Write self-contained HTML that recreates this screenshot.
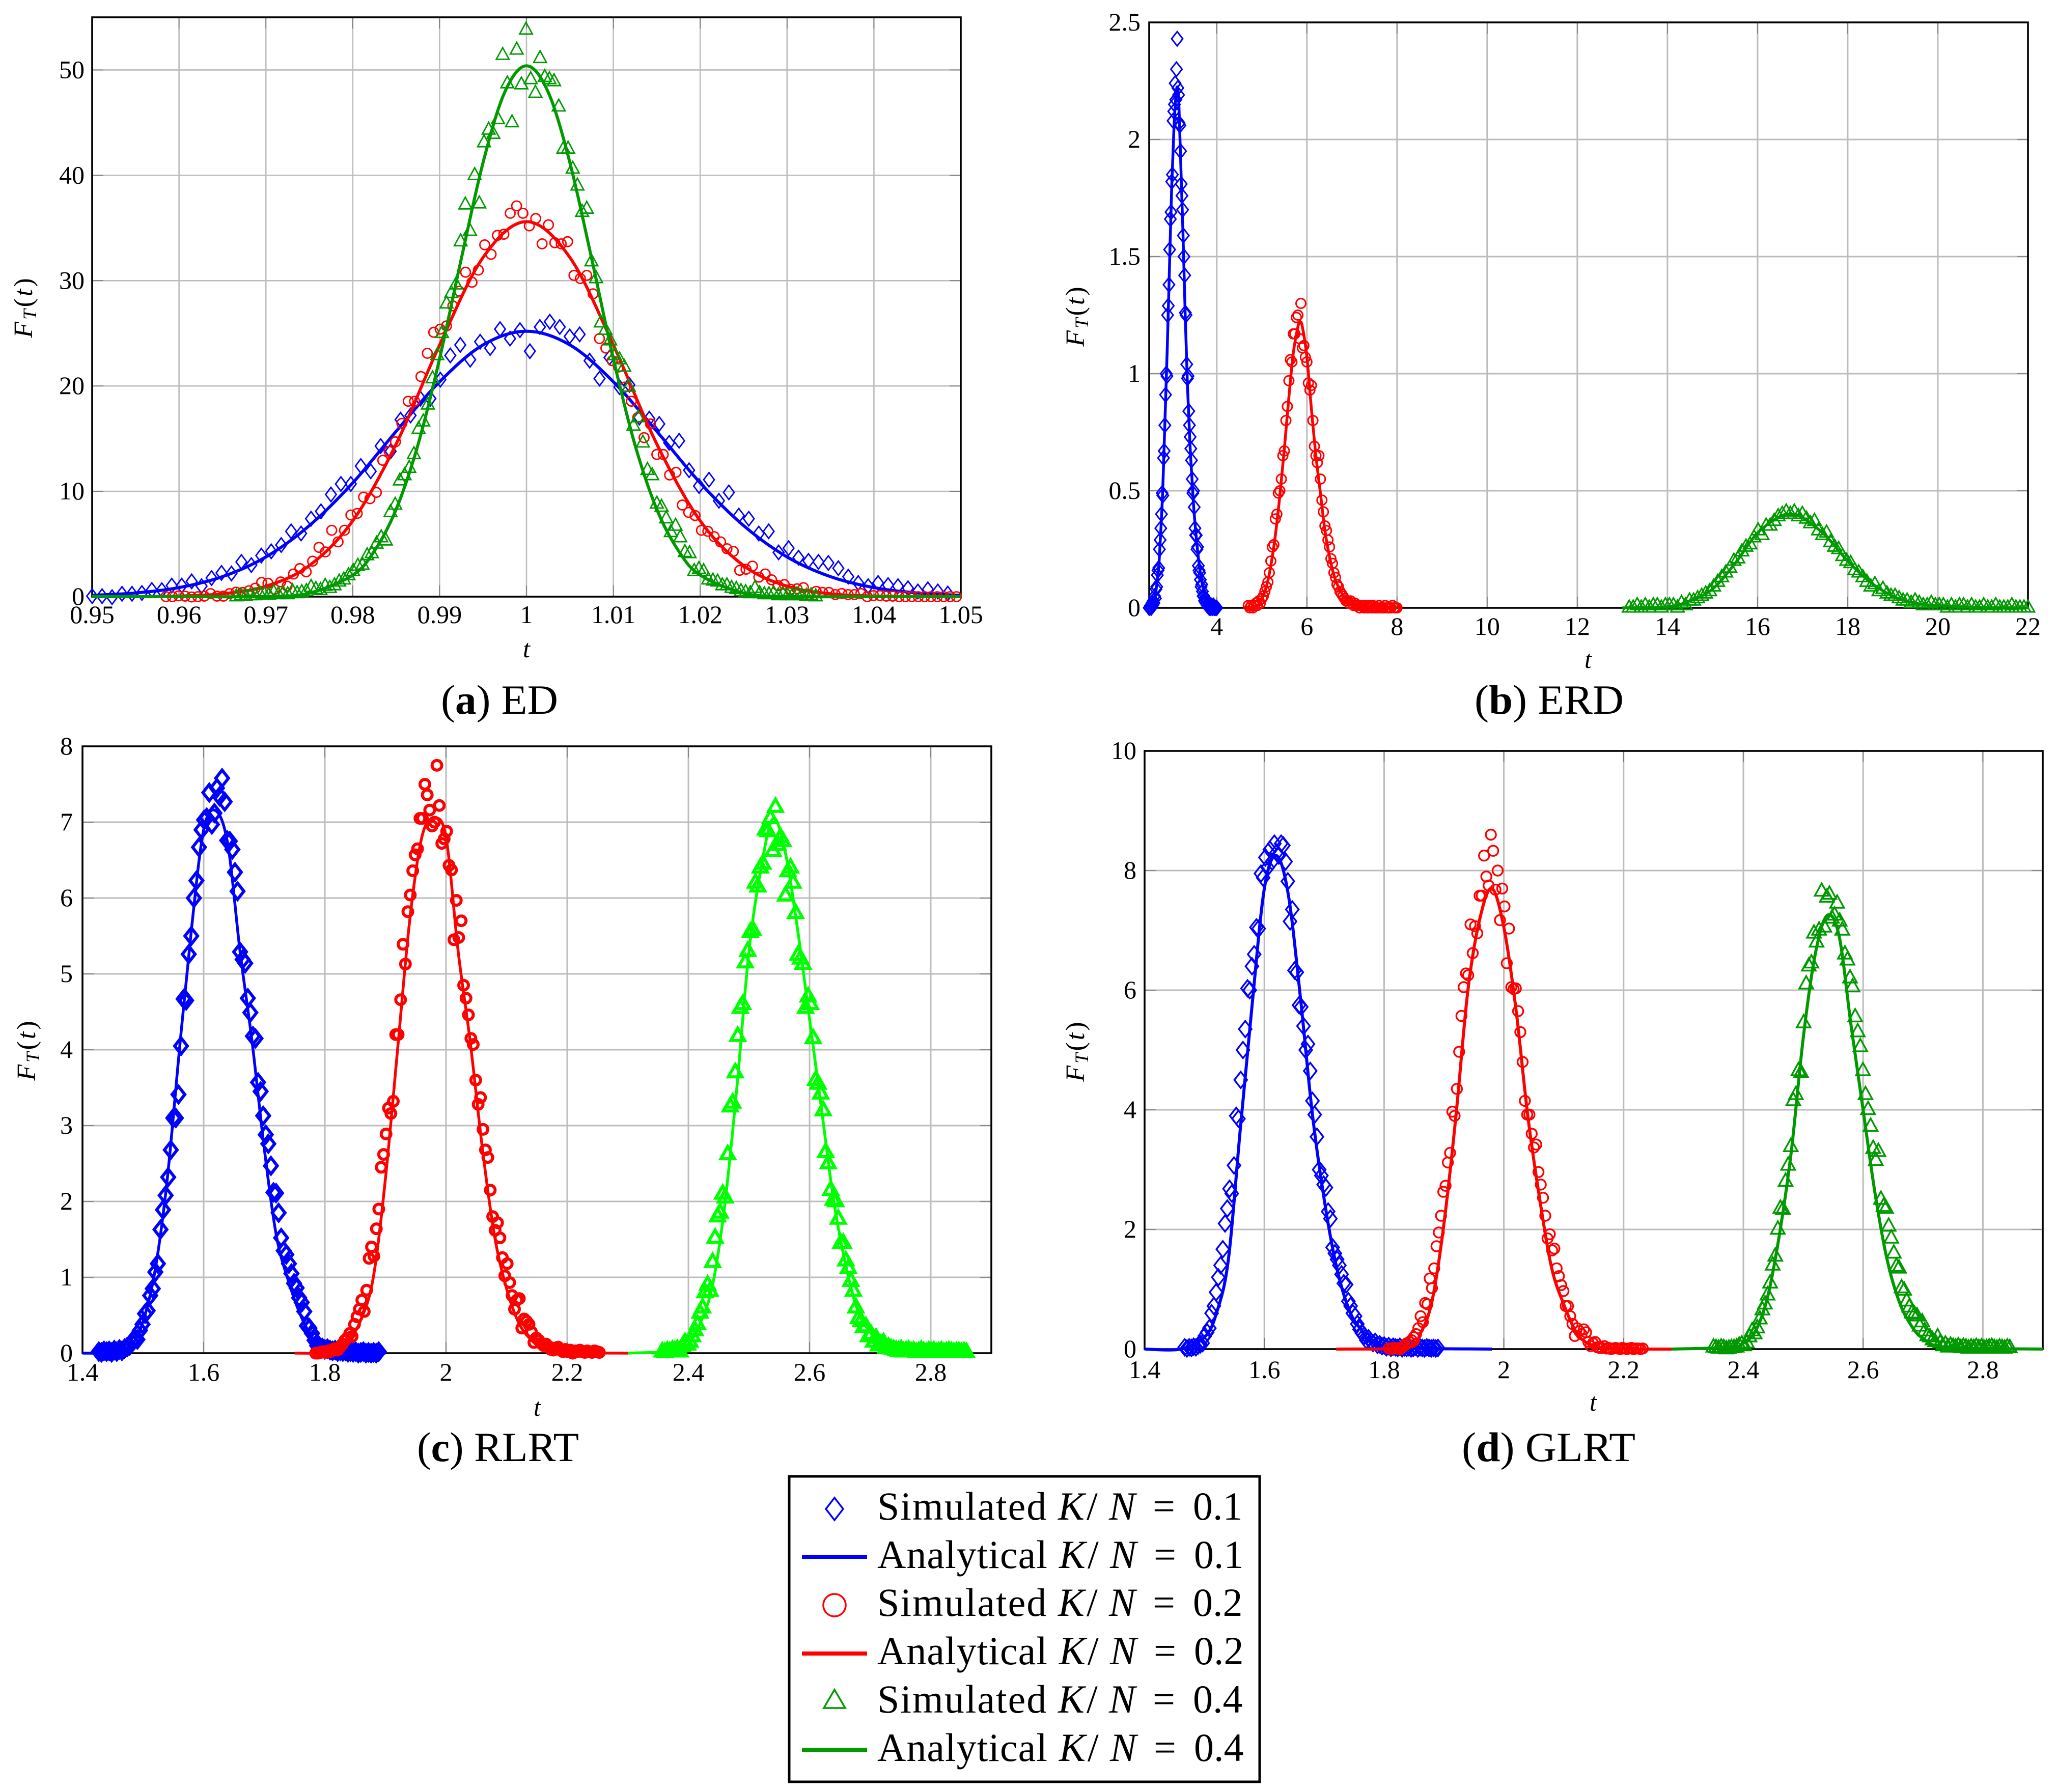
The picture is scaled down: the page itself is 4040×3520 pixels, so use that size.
<!DOCTYPE html>
<html lang="en">
<head>
<meta charset="utf-8">
<title>Distribution of test statistics</title>
<style>
html,body{margin:0;padding:0;background:#fff;}
svg{display:block;position:absolute;left:0;top:0;}
text{font-family:"Liberation Serif",serif;fill:#000;}
.w1{letter-spacing:2px;}
.w2{letter-spacing:1px;}
.i{font-style:italic;}
</style>
</head>
<body>
<svg id="figure" xmlns="http://www.w3.org/2000/svg" width="4040" height="3520" viewBox="0 0 4040 3520">
  <rect x="0" y="0" width="4040" height="3520" fill="#fff"/>
  <g id="panels"></g>

  <text x="866" y="1402" font-size="82" textLength="230" lengthAdjust="spacingAndGlyphs">(<tspan font-weight="bold">a</tspan>) ED</text>
  <text x="2896" y="1402" font-size="82" textLength="293" lengthAdjust="spacingAndGlyphs">(<tspan font-weight="bold">b</tspan>) ERD</text>
  <text x="819" y="2870" font-size="82" textLength="318" lengthAdjust="spacingAndGlyphs">(<tspan font-weight="bold">c</tspan>) RLRT</text>
  <text x="2871" y="2870" font-size="82" textLength="341" lengthAdjust="spacingAndGlyphs">(<tspan font-weight="bold">d</tspan>) GLRT</text>

  <g>
    <rect x="1550" y="2900" width="924" height="600" fill="#fff" stroke="#000" stroke-width="5"/>
    <path d="M1639 2942L1656 2964L1639 2986L1622 2964Z" fill="none" stroke="#0000ff" stroke-width="3.5"/>
    <text y="2985" font-size="78"><tspan class="w1" x="1723">Simulated</tspan><tspan class="i" x="2078">K</tspan><tspan x="2134">/</tspan><tspan class="i" x="2178">N</tspan><tspan x="2264">=</tspan><tspan x="2343">0.1</tspan></text>
    <rect x="1575" y="3054" width="128" height="8" fill="#0000ff"/>
    <text y="3080" font-size="78"><tspan class="w2" x="1723">Analytical</tspan><tspan class="i" x="2080">K</tspan><tspan x="2136">/</tspan><tspan class="i" x="2180">N</tspan><tspan x="2266">=</tspan><tspan x="2345">0.1</tspan></text>
    <circle cx="1639" cy="3153" r="22" fill="none" stroke="#ff0000" stroke-width="3.5"/>
    <text y="3174" font-size="78"><tspan class="w1" x="1723">Simulated</tspan><tspan class="i" x="2078">K</tspan><tspan x="2134">/</tspan><tspan class="i" x="2178">N</tspan><tspan x="2264">=</tspan><tspan x="2343">0.2</tspan></text>
    <rect x="1575" y="3244" width="128" height="8" fill="#ff0000"/>
    <text y="3269" font-size="78"><tspan class="w2" x="1723">Analytical</tspan><tspan class="i" x="2080">K</tspan><tspan x="2136">/</tspan><tspan class="i" x="2180">N</tspan><tspan x="2266">=</tspan><tspan x="2345">0.2</tspan></text>
    <path d="M1639 3319L1660 3355L1618 3355Z" fill="none" stroke="#009900" stroke-width="3.5"/>
    <text y="3364" font-size="78"><tspan class="w1" x="1723">Simulated</tspan><tspan class="i" x="2078">K</tspan><tspan x="2134">/</tspan><tspan class="i" x="2178">N</tspan><tspan x="2264">=</tspan><tspan x="2343">0.4</tspan></text>
    <rect x="1575" y="3433" width="128" height="8" fill="#009900"/>
    <text y="3459" font-size="78"><tspan class="w2" x="1723">Analytical</tspan><tspan class="i" x="2080">K</tspan><tspan x="2136">/</tspan><tspan class="i" x="2180">N</tspan><tspan x="2266">=</tspan><tspan x="2345">0.4</tspan></text>
  </g>
</svg>

<script>
/* ---------- Panel (a) ED ---------- */
const edXTicks=[0.95,0.96,0.97,0.98,0.99,1,1.01,1.02,1.03,1.04,1.05];
const edXLabels=["0.95","0.96","0.97","0.98","0.99","1","1.01","1.02","1.03","1.04","1.05"];
const edYTicks=[0,10,20,30,40,50];
const edYLabels=["0","10","20","30","40","50"];
const edBlueSimRange=[0.95,1.0485];
const edBlueSimY=[0.05,0.05,-0.05,0.27,0.27,0.35,0.64,0.62,1.05,1.05,1.45,1.0,1.77,2.25,2.2,3.3,3.0,3.9,4.3,4.9,6.2,6.0,7.4,8.1,9.7,10.7,10.7,12.4,11.9,14.3,13.8,16.8,17.2,18.8,18.8,20.6,22.9,23.9,22.5,24.2,23.6,25.4,24.5,25.3,23.3,25.6,26.1,25.6,24.7,24.9,22.4,20.7,22.7,19.9,20.1,17.0,16.9,16.4,14.6,14.8,12.0,10.5,11.1,9.1,9.9,7.7,7.4,6.0,6.2,4.2,4.6,3.7,3.4,3.3,3.2,2.7,1.9,1.3,1.0,1.3,1.1,1.0,0.8,0.5,0.7,0.5,0.3];
const edRedSimRange=[0.9585,1.0495];
const edRedSimY=[0,0,0.08,0.05,-0.03,0,0.05,0.29,0.05,0.05,0.29,0.43,0.4,0.56,0.8,1.35,1.27,0.7,1.4,1.0,2.15,2.67,2.36,3.37,4.68,4.25,6.3,5.2,6.3,7.75,7.9,9.45,9.3,9.9,12.95,13.8,14.7,16.45,18.55,18.55,20.9,23.1,25.1,25.4,25.7,27.6,29,30.8,29.85,31,33.4,32.5,34.3,34.4,36.4,37.1,36.4,35.2,35.9,33.5,35.3,33.6,33.5,33.7,30.5,30.2,30.5,28.75,24.5,23.6,22.4,21.8,19.9,18.55,17,15.1,16.4,13.5,13.5,11.55,11.8,8.7,8,7.7,6.3,6.2,5.7,5.2,4.55,4.3,2.5,2.6,2.9,1.85,2.15,1.6,1.05,1.15,0.7,0.75,0.85,0.2,0.5,0.4,0.4,0.2,0.3,0.2,0.2,0.3,0,0.1,0.1,0.05,0.05,0,0,0,0,0,0,0,0,0,0];
const edGreenSimRange=[0.9666,1.0333];
const edGreenSimY=[0,0.1,0.05,0.1,0.1,0.3,0.2,0.15,0.4,0.2,0.3,0.2,0.5,0.3,0.4,0.5,0.9,0.7,0.6,1,0.8,1.05,1.4,1.6,2,2.4,2.9,3,3.9,4.1,5,5.6,5.3,8,8.7,11,11.5,12.2,13.5,15.9,16.6,18.2,20.7,22.9,25,27.8,28.8,29.6,33.7,37.2,34.7,40,37.3,43.1,44.3,43.9,45.3,51.4,48.7,45,51.9,48.6,53.8,49.1,47.8,51.1,49.3,49.1,48.9,46.5,42.5,42.5,40.6,39,36.5,36.8,31.8,30.2,26,25.3,24.3,22.9,22.5,21.8,19.9,16.2,17,14.6,12,11.5,8.8,8.5,7.4,6.1,6.7,5.6,4.2,4.1,2.4,2.6,2.4,1.6,1.5,1.4,1.05,1.05,0.8,0.7,0.5,0.4,0.3,0.8,0.3,0.2,0.2,0.3,0.1,0.2,0.1,0.1,0.2,0.1,0.05,0.1,0];
const edBlueCurveT=[0.95,0.955,0.96,0.965,0.97,0.975,0.98,0.985,0.99,0.995,1,1.005,1.01,1.015,1.02,1.025,1.03,1.035,1.04,1.045,1.05];
const edBlueCurveY=[0.13,0.35,0.86,1.9,3.77,6.74,10.8,15.7,20.4,23.9,25.2,23.9,20.4,15.7,10.8,6.74,3.77,1.9,0.86,0.35,0.13];
const edRedCurveT=[0.95,0.955,0.96,0.965,0.97,0.975,0.98,0.985,0.99,0.995,1,1.005,1.01,1.015,1.02,1.025,1.03,1.035,1.04,1.045,1.05];
const edRedCurveY=[0,0.01,0.06,0.27,0.99,2.95,7.2,14.5,23.9,32.2,35.6,32.2,23.9,14.5,7.2,2.95,0.99,0.27,0.06,0.01,0];
const edGreenCurveT=[0.95,0.96,0.97,0.975,0.98,0.9825,0.985,0.9875,0.99,0.9925,0.995,0.9975,1,1.0025,1.005,1.0075,1.01,1.0125,1.015,1.0175,1.02,1.025,1.03,1.04,1.05];
const edGreenCurveY=[0,0,0.02,0.34,2.05,4.35,8.3,14.4,22.6,32.1,41.2,47.9,50.4,47.9,41.2,32.1,22.6,14.4,8.3,4.35,2.05,0.34,0.02,0,0];

/* ---------- Panel (b) ERD ---------- */
const erdXTicks=[4,6,8,10,12,14,16,18,20,22];
const erdXLabels=["4","6","8","10","12","14","16","18","20","22"];
const erdYTicks=[0,0.5,1,1.5,2,2.5];
const erdYLabels=["0","0.5","1","1.5","2","2.5"];
const erdBlueSimRange=[2.5,4.0];
const erdBlueSimY=[0,0,0.01,0,0.02,0.01,0.03,0.02,0.05,0.04,0.08,0.09,0.14,0.16,0.17,0.25,0.29,0.34,0.4,0.49,0.48,0.64,0.67,0.78,0.91,1.0,0.99,1.25,1.29,1.38,1.53,1.66,1.69,1.82,1.85,2.08,2.12,2.15,2.24,2.17,2.3,2.43,2.22,2.19,2.07,2.06,1.95,1.81,1.76,1.7,1.59,1.5,1.42,1.26,1.25,1.04,0.98,0.99,0.84,0.78,0.73,0.68,0.63,0.55,0.49,0.5,0.43,0.34,0.31,0.31,0.25,0.26,0.18,0.16,0.15,0.12,0.09,0.1,0.07,0.05,0.05,0.03,0.04,0.02,0.03,0.01,0.02,0.01,0,0.01,0,0.01,0,0,0.01,0,0,0,0,0];
const erdRedSimRange=[4.7,8.0];
const erdRedSimY=[0.01,0,0.01,0,0.01,0.02,0.01,0.03,0.02,0.04,0.05,0.07,0.09,0.11,0.15,0.2,0.26,0.27,0.38,0.4,0.49,0.5,0.55,0.65,0.67,0.8,0.86,0.97,1.06,1.05,1.17,1.17,1.24,1.25,1.15,1.3,1.11,1.12,1.07,1.05,0.96,0.93,0.95,0.8,0.69,0.65,0.62,0.65,0.55,0.46,0.41,0.35,0.33,0.29,0.26,0.21,0.19,0.15,0.13,0.1,0.09,0.07,0.06,0.05,0.04,0.03,0.03,0.02,0.03,0.02,0.01,0.02,0.01,0.01,0,0.01,0.01,0,0.01,0,0,0.01,0,0.01,0,0,0,0.01,0,0,0,0.01,0,0,0,0,0.01,0,0,0];
const erdGreenSimRange=[13.15,22.0];
const erdGreenSimY=[0,0,0.01,0,0.01,0,0.01,0.01,0,0.01,0.01,0.01,0,0.02,0.01,0.03,0.03,0.04,0.05,0.06,0.07,0.09,0.11,0.13,0.15,0.17,0.2,0.21,0.24,0.26,0.27,0.3,0.33,0.31,0.35,0.35,0.37,0.39,0.4,0.41,0.4,0.41,0.39,0.4,0.38,0.36,0.37,0.33,0.31,0.32,0.28,0.26,0.25,0.22,0.2,0.19,0.16,0.15,0.13,0.11,0.09,0.1,0.07,0.08,0.06,0.05,0.05,0.04,0.03,0.03,0.02,0.03,0.02,0.01,0.01,0.02,0.01,0.01,0.01,0,0.01,0,0.01,0.01,0,0.01,0,0,0.01,0,0,0.01,0,0,0,0.01,0,0,0,0];
const erdBlueCurveT=[2.5,2.6,2.7,2.75,2.8,2.85,2.9,2.95,3.0,3.05,3.1,3.13,3.16,3.2,3.25,3.3,3.35,3.4,3.45,3.5,3.6,3.7,3.8,4];
const erdBlueCurveY=[0,0.02,0.15,0.3,0.5,0.8,1.1,1.45,1.8,2.05,2.2,2.22,2.15,1.9,1.6,1.25,0.95,0.72,0.55,0.4,0.2,0.08,0.03,0];
const erdRedCurveT=[4.7,4.9,5.0,5.1,5.2,5.3,5.4,5.5,5.6,5.7,5.8,5.85,5.9,6.0,6.1,6.2,6.3,6.4,6.5,6.6,6.7,6.9,7.2,8];
const erdRedCurveY=[0,0.01,0.04,0.09,0.18,0.31,0.48,0.68,0.9,1.09,1.2,1.22,1.2,1.07,0.85,0.65,0.49,0.33,0.22,0.14,0.09,0.03,0.01,0];
const erdGreenCurveT=[13,14,14.5,15,15.5,16,16.5,16.75,17,17.5,18,18.5,19,19.5,20,21,22];
const erdGreenCurveY=[0,0.005,0.03,0.08,0.19,0.32,0.39,0.4,0.385,0.31,0.2,0.11,0.05,0.02,0.01,0.002,0];

/* ---------- Panel (c) RLRT ---------- */
const rlrtXTicks=[1.4,1.6,1.8,2,2.2,2.4,2.6,2.8];
const rlrtXLabels=["1.4","1.6","1.8","2","2.2","2.4","2.6","2.8"];
const rlrtYTicks=[0,1,2,3,4,5,6,7,8];
const rlrtYLabels=["0","1","2","3","4","5","6","7","8"];
const rlrtBlueSimRange=[1.427,1.889];
const rlrtBlueSimY=[0.02,0.01,0.03,0.02,0.03,0.01,0.04,0.02,0.05,0.03,0.06,0.08,0.1,0.14,0.2,0.18,0.3,0.38,0.52,0.56,0.76,0.85,1.07,1.18,1.63,1.89,2.08,2.32,2.68,3.1,3.1,3.41,4.05,4.67,4.65,5.26,5.5,6,6.23,6.67,6.9,7.03,7.06,7.39,6.97,7.12,7.45,7.34,7.58,7.27,6.76,6.75,6.64,6.34,6.09,5.29,5.19,5.14,4.68,4.49,4.18,4.15,3.57,3.45,3.13,2.88,2.76,2.47,2.12,2.11,1.85,1.52,1.35,1.3,1.18,1.05,0.92,0.86,0.73,0.67,0.55,0.36,0.33,0.26,0.17,0.1,0.08,0.07,0.05,0.06,0.04,0.03,0.04,0.02,0.03,0.02,0.03,0.01,0.02,0.01,0.02,0,0.01,0.02,0,0.01,0,0.01,0,0.02];
const rlrtRedSimRange=[1.785,2.253];
const rlrtRedSimY=[0,0,0.01,0.02,0.01,0.03,0.02,0.05,0.06,0.04,0.08,0.12,0.17,0.2,0.26,0.22,0.38,0.48,0.58,0.7,0.55,0.83,1.25,1.4,1.28,1.64,1.9,2.45,2.62,2.89,3.23,3.16,3.32,4.2,4.2,4.66,5.39,5.13,5.82,6.04,6.36,6.57,6.65,7.05,7.05,7.5,7.36,7.16,6.95,7.0,7.75,7.22,6.72,6.78,6.88,6.43,6.37,5.45,5.97,5.48,5.7,4.85,4.68,4.46,4.15,4.07,3.6,3.28,3.37,2.95,2.68,2.58,2.15,1.8,1.62,1.72,1.52,1.26,1.02,1.18,0.93,0.76,0.58,0.7,0.72,0.33,0.45,0.42,0.38,0.28,0.14,0.2,0.17,0.13,0.1,0.12,0.09,0.05,0.04,0.07,0.08,0.04,0.02,0.05,0.02,0.04,0,0.03,0.02,0.04,0.02,0.01,0.03,0.02,0.01,0.03,0.02,0.01];
const rlrtGreenSimRange=[2.357,2.859];
const rlrtGreenSimY=[0.02,0.01,0.03,0.02,0.04,0.03,0.05,0.02,0.09,0.14,0.11,0.15,0.22,0.3,0.38,0.53,0.6,0.8,0.9,0.82,1.2,1.52,1.8,1.85,2.1,2.05,2.62,3.25,3.3,3.7,4.18,4.55,4.6,5.15,5.3,5.55,5.58,6.2,6.15,6.4,6.45,6.9,6.88,7.05,6.62,7.2,6.7,6.8,6.75,6.03,6.35,6.4,6.2,5.8,5.25,5.2,5.13,4.55,4.7,4.6,4.15,3.6,3.55,3.42,3.2,2.65,2.5,2.15,2.02,2.0,1.77,1.45,1.45,1.22,1.12,0.95,0.82,0.6,0.46,0.42,0.34,0.35,0.22,0.25,0.15,0.2,0.1,0.12,0.14,0.07,0.08,0.06,0.05,0.04,0.03,0.05,0.02,0.03,0.04,0.02,0.03,0.01,0.02,0.04,0.02,0.01,0.03,0.02,0.03,0.01,0.02,0.03,0.01,0.02,0.03,0.02,0.01,0.02,0.02,0.01,0.02,0.01];
const rlrtBlueCurveT=[1.4,1.45,1.48,1.5,1.52,1.54,1.56,1.58,1.6,1.62,1.64,1.66,1.68,1.7,1.72,1.74,1.76,1.78,1.8,1.85,1.9];
const rlrtBlueCurveY=[0,0.01,0.1,0.42,1.1,2.3,4.0,5.6,6.9,7.15,6.7,5.3,4.1,2.7,1.55,0.95,0.5,0.2,0.07,0,0];
const rlrtRedCurveT=[1.75,1.8,1.84,1.86,1.88,1.9,1.92,1.94,1.96,1.98,2.0,2.02,2.04,2.06,2.08,2.1,2.12,2.14,2.16,2.2,2.3];
const rlrtRedCurveY=[0,0.02,0.2,0.45,1.0,2.3,4.0,5.7,6.8,7.05,6.8,5.3,4.1,2.7,1.55,0.85,0.4,0.18,0.07,0.01,0];
const rlrtGreenCurveT=[2.3,2.38,2.4,2.42,2.44,2.46,2.48,2.5,2.52,2.54,2.56,2.58,2.6,2.62,2.64,2.66,2.68,2.7,2.72,2.76,2.86];
const rlrtGreenCurveY=[0,0.03,0.12,0.4,0.9,1.95,3.5,5.3,6.4,7.05,6.6,5.6,4.4,3.2,2.0,1.15,0.55,0.28,0.12,0.02,0];

/* ---------- Panel (d) GLRT ---------- */
const glrtXTicks=[1.4,1.6,1.8,2,2.2,2.4,2.6,2.8];
const glrtXLabels=["1.4","1.6","1.8","2","2.2","2.4","2.6","2.8"];
const glrtYTicks=[0,2,4,6,8,10];
const glrtYLabels=["0","2","4","6","8","10"];
const glrtBlueSimRange=[1.467,1.89];
const glrtBlueSimY=[0.03,0.01,0.03,0.02,0.04,0.03,0.06,0.08,0.1,0.22,0.28,0.35,0.6,0.72,0.95,1.2,1.4,1.67,2.1,2.35,2.68,2.6,3.07,3.9,3.85,4.5,5.0,5.35,6.03,6.0,6.4,6.6,7.05,7.03,7.95,7.88,8.22,8.05,8.35,8.15,8.45,8.3,8.25,8.45,8.42,8.15,7.82,7.15,7.35,6.33,6.3,5.75,5.72,5.4,5.0,5.1,4.65,4.15,3.92,3.55,3.0,2.9,2.75,2.7,2.3,2.18,1.7,1.6,1.5,1.4,1.25,1.1,1.08,0.8,0.72,0.6,0.55,0.42,0.33,0.27,0.22,0.15,0.18,0.13,0.1,0.12,0.07,0.08,0.05,0.06,0.03,0.05,0.02,0.04,0.03,0.02,0.04,0.01,0.03,0.02,0.03,0.01,0.02,0.04,0.01,0.03,0.02,0.01,0.03,0.02,0.01,0.02,0.01,0.02];
const glrtRedSimRange=[1.808,2.232];
const glrtRedSimY=[0.01,0,0.02,0.01,0.02,0,0.03,0.06,0.1,0.12,0.15,0.2,0.25,0.35,0.55,0.45,0.77,0.75,1.18,1.02,1.35,1.72,1.95,2.23,2.63,2.73,3.12,3.28,3.97,3.9,4.35,4.97,5.57,6.05,6.28,6.25,7.1,6.62,7.07,6.95,7.58,7.58,8.25,7.9,7.75,8.6,8.33,7.68,8.0,7.17,7.7,7.4,6.45,7.03,6.05,6.02,6.03,5.65,5.3,4.8,4.15,3.92,3.92,3.6,3.37,3.42,2.96,2.75,2.53,2.23,1.85,1.92,1.65,1.68,1.35,1.22,1.07,0.97,0.72,0.72,0.55,0.42,0.22,0.35,0.3,0.25,0.33,0.28,0.12,0.05,0.1,0.12,0.03,0.02,0.02,0.05,0.01,0.02,0,0.01,0.02,0.01,0,0.02,0.01,0,0.01,0.02,0,0.01,0.01,0,0.01];
const glrtGreenSimRange=[2.35,2.845];
const glrtGreenSimY=[0.03,0.02,0.01,0.03,0.02,0,0.01,0.02,0.02,0.03,0.06,0.08,0.05,0.1,0.2,0.3,0.25,0.35,0.5,0.65,0.75,0.9,1.1,1.4,1.55,2.0,2.35,2.33,2.8,3.07,3.38,4.15,4.25,4.65,4.62,5.45,6.1,6.4,6.45,6.95,6.8,7.0,7.65,7.05,7.55,7.6,7.2,7.25,7.45,7.15,7.0,6.6,6.5,6.2,6.05,5.55,5.3,5.05,4.65,4.25,4.0,3.72,3.35,3.15,3.3,2.5,2.38,2.35,2.05,1.85,1.6,1.38,1.35,1.02,0.98,0.8,0.7,0.6,0.58,0.55,0.38,0.45,0.3,0.22,0.2,0.15,0.12,0.2,0.1,0.05,0.08,0.03,0.06,0.04,0.03,0.05,0.02,0.04,0.03,0.01,0.03,0.02,0.04,0.02,0.03,0.01,0.02,0.03,0.04,0.02,0.01,0.03,0.02,0.01,0.03,0.02];
const glrtBlueCurveT=[1.4,1.46,1.5,1.52,1.54,1.56,1.58,1.6,1.62,1.64,1.66,1.68,1.7,1.72,1.74,1.76,1.8,1.98];
const glrtBlueCurveY=[0,0,0.2,0.6,1.5,3.7,5.8,7.7,8.25,7.6,5.9,3.95,2.5,1.4,0.7,0.35,0.05,0];
const glrtRedCurveT=[1.72,1.84,1.86,1.88,1.9,1.92,1.94,1.96,1.98,2.0,2.02,2.04,2.06,2.08,2.1,2.12,2.14,2.18,2.28];
const glrtRedCurveY=[0,0.03,0.25,0.8,2.1,3.9,6.0,7.2,7.7,7.05,5.7,3.9,2.5,1.35,0.75,0.3,0.1,0.01,0];
const glrtGreenCurveT=[2.28,2.38,2.4,2.42,2.44,2.46,2.48,2.5,2.52,2.54,2.56,2.58,2.6,2.62,2.64,2.66,2.68,2.7,2.74,2.9];
const glrtGreenCurveY=[0,0.03,0.1,0.3,0.85,1.9,3.3,5.2,6.6,7.25,6.9,5.4,4.0,2.6,1.5,0.8,0.4,0.18,0.03,0];

const SVGNS='http://www.w3.org/2000/svg';
const root=document.getElementById('panels');

function mk(parent,tag,attrs){
  const el=document.createElementNS(SVGNS,tag);
  for(const k in attrs){el.setAttribute(k,attrs[k]);}
  parent.appendChild(el);
  return el;
}

function smoothPath(pts){
  let d='M'+pts[0][0].toFixed(1)+' '+pts[0][1].toFixed(1);
  for(let i=0;i<pts.length-1;i++){
    const p0=pts[Math.max(0,i-1)],p1=pts[i],p2=pts[i+1],p3=pts[Math.min(pts.length-1,i+2)];
    const c1x=p1[0]+(p2[0]-p0[0])/6,c1y=p1[1]+(p2[1]-p0[1])/6;
    const c2x=p2[0]-(p3[0]-p1[0])/6,c2y=p2[1]-(p3[1]-p1[1])/6;
    d+='C'+c1x.toFixed(1)+' '+c1y.toFixed(1)+' '+c2x.toFixed(1)+' '+c2y.toFixed(1)+' '+p2[0].toFixed(1)+' '+p2[1].toFixed(1);
  }
  return d;
}

function drawPanel(cfg){
  const g=mk(root,'g',{});
  
  
  const sx=t=>cfg.left+(t-cfg.xMin)/(cfg.xMax-cfg.xMin)*(cfg.right-cfg.left);
  const sy=v=>cfg.bottom-(v-cfg.yMin)/(cfg.yMax-cfg.yMin)*(cfg.bottom-cfg.top);

  /* grid and ticks */
  cfg.xTicks.forEach((t,i)=>{
    const x=sx(t);
    const line=mk(g,'line',{x1:x,x2:x,y1:cfg.top,y2:cfg.bottom,stroke:'#bcbcbc','stroke-width':cfg.gridWidth});
    
    
    const tick=mk(g,'path',{d:'M'+x+' '+cfg.bottom+'v-22M'+x+' '+cfg.top+'v22',stroke:'#777','stroke-width':1.6,fill:'none'});
    
    
    const lab=mk(g,'text',{x:x,y:cfg.xLabelY,'font-size':50,'text-anchor':'middle'});
    lab.textContent=cfg.xLabels[i];
    
    
  });
  cfg.yTicks.forEach((v,i)=>{
    const y=sy(v);
    const line=mk(g,'line',{x1:cfg.left,x2:cfg.right,y1:y,y2:y,stroke:'#bcbcbc','stroke-width':cfg.gridWidth});
    
    
    const tick=mk(g,'path',{d:'M'+cfg.left+' '+y+'h22M'+cfg.right+' '+y+'h-22',stroke:'#777','stroke-width':1.6,fill:'none'});
    
    
    const lab=mk(g,'text',{x:cfg.yLabelX,y:y+16,'font-size':50,'text-anchor':'end'});
    lab.textContent=cfg.yLabels[i];
    
    
  });

  /* frame */
  const frame=mk(g,'rect',{x:cfg.left,y:cfg.top,width:cfg.right-cfg.left,height:cfg.bottom-cfg.top,fill:'none',stroke:'#000','stroke-width':3.6});
  
  

  /* axis titles */
  const xt=mk(g,'text',{x:cfg.xTitle[0],y:cfg.xTitle[1],'font-size':50,'font-style':'italic','text-anchor':'middle'});
  xt.textContent='t';
  
  
  const yt=mk(g,'text',{x:0,y:0,'font-size':52,'text-anchor':'middle','letter-spacing':4,transform:'translate('+(cfg.yTitle[0]+12)+' '+cfg.yTitle[1]+') rotate(-90)'});
  
  
  const a=mk(yt,'tspan',{'font-style':'italic'});a.textContent='F';
  const b=mk(yt,'tspan',{'font-style':'italic','font-size':37,dy:8});b.textContent='T';
  const c=mk(yt,'tspan',{dy:-8});c.textContent='(';
  const d=mk(yt,'tspan',{'font-style':'italic'});d.textContent='t';
  const e=mk(yt,'tspan',{});e.textContent=')';

  /* series */
  cfg.series.forEach(s=>{
    const sg=mk(g,'g',{});
    
    
    const n=s.simY.length;
    s.simY.forEach((v,i)=>{
      const t=s.simRange[0]+i*(s.simRange[1]-s.simRange[0])/(n-1);
      const x=sx(t),y=sy(v);
      let m;
      if(s.marker==='diamond'){
        m=mk(sg,'path',{d:'M'+x.toFixed(1)+' '+(y-cfg.dH).toFixed(1)+'L'+(x+cfg.dW).toFixed(1)+' '+y.toFixed(1)+'L'+x.toFixed(1)+' '+(y+cfg.dH).toFixed(1)+'L'+(x-cfg.dW).toFixed(1)+' '+y.toFixed(1)+'Z'});
      }else if(s.marker==='circle'){
        m=mk(sg,'circle',{cx:x.toFixed(1),cy:y.toFixed(1),r:cfg.cR});
      }else{
        m=mk(sg,'path',{d:'M'+x.toFixed(1)+' '+(y-cfg.tUp).toFixed(1)+'L'+(x+cfg.tW).toFixed(1)+' '+(y+cfg.tDn).toFixed(1)+'L'+(x-cfg.tW).toFixed(1)+' '+(y+cfg.tDn).toFixed(1)+'Z'});
      }
      m.setAttribute('fill','none');
      m.setAttribute('stroke',s.color);
      m.setAttribute('stroke-width',cfg.markStroke);
      
      
    });
    const pts=s.curveT.map((t,i)=>[sx(t),sy(s.curveY[i])]);
    const line=mk(sg,'path',{d:smoothPath(pts),fill:'none',stroke:s.color,'stroke-width':cfg.lineWidth,'stroke-linejoin':'round'});
    
    
  });
}

drawPanel({left:181,right:1887,top:34,bottom:1172,xMin:0.95,xMax:1.05,yMin:0,yMax:55,
  xTicks:edXTicks,xLabels:edXLabels,yTicks:edYTicks,yLabels:edYLabels,
  xLabelY:1224,yLabelX:166,xTitle:[1034,1291],yTitle:[51,603],gridWidth:2.6,lineWidth:6,markStroke:2.8,
  dW:10.5,dH:14,cR:9.5,tW:12.5,tUp:15,tDn:8,
  series:[
    {marker:'diamond',color:'#0000ff',simRange:edBlueSimRange,simY:edBlueSimY,curveT:edBlueCurveT,curveY:edBlueCurveY},
    {marker:'circle',color:'#ff0000',simRange:edRedSimRange,simY:edRedSimY,curveT:edRedCurveT,curveY:edRedCurveY},
    {marker:'triangle',color:'#009900',simRange:edGreenSimRange,simY:edGreenSimY,curveT:edGreenCurveT,curveY:edGreenCurveY}
  ]});

drawPanel({left:2257,right:3983,top:44,bottom:1194,xMin:2.5,xMax:22,yMin:0,yMax:2.5,
  xTicks:erdXTicks,xLabels:erdXLabels,yTicks:erdYTicks,yLabels:erdYLabels,
  xLabelY:1247,yLabelX:2240,xTitle:[3119,1312],yTitle:[2117,620],gridWidth:3,lineWidth:5.5,markStroke:3,
  dW:11,dH:14,cR:9.5,tW:13,tUp:15,tDn:8,
  series:[
    {marker:'diamond',color:'#0000ff',simRange:erdBlueSimRange,simY:erdBlueSimY,curveT:erdBlueCurveT,curveY:erdBlueCurveY},
    {marker:'circle',color:'#ff0000',simRange:erdRedSimRange,simY:erdRedSimY,curveT:erdRedCurveT,curveY:erdRedCurveY},
    {marker:'triangle',color:'#009900',simRange:erdGreenSimRange,simY:erdGreenSimY,curveT:erdGreenCurveT,curveY:erdGreenCurveY}
  ]});

drawPanel({left:162,right:1947,top:1466,bottom:2658,xMin:1.4,xMax:2.9,yMin:0,yMax:8,
  xTicks:rlrtXTicks,xLabels:rlrtXLabels,yTicks:rlrtYTicks,yLabels:rlrtYLabels,
  xLabelY:2712,yLabelX:143,xTitle:[1055,2781],yTitle:[57,2062],gridWidth:3,lineWidth:5.5,markStroke:6,
  dW:12.5,dH:16,cR:9.5,tW:13.5,tUp:15.5,tDn:8.5,
  series:[
    {marker:'diamond',color:'#0000ff',simRange:rlrtBlueSimRange,simY:rlrtBlueSimY,curveT:rlrtBlueCurveT,curveY:rlrtBlueCurveY},
    {marker:'circle',color:'#ff0000',simRange:rlrtRedSimRange,simY:rlrtRedSimY,curveT:rlrtRedCurveT,curveY:rlrtRedCurveY},
    {marker:'triangle',color:'#00ff00',simRange:rlrtGreenSimRange,simY:rlrtGreenSimY,curveT:rlrtGreenCurveT,curveY:rlrtGreenCurveY}
  ]});

drawPanel({left:2248,right:4012,top:1475,bottom:2650,xMin:1.4,xMax:2.9,yMin:0,yMax:10,
  xTicks:glrtXTicks,xLabels:glrtXLabels,yTicks:glrtYTicks,yLabels:glrtYLabels,
  xLabelY:2707,yLabelX:2232,xTitle:[3129,2771],yTitle:[2117,2064],gridWidth:3,lineWidth:6,markStroke:3.4,
  dW:12.5,dH:16,cR:10,tW:13.5,tUp:16,tDn:8.5,
  series:[
    {marker:'diamond',color:'#0000ff',simRange:glrtBlueSimRange,simY:glrtBlueSimY,curveT:glrtBlueCurveT,curveY:glrtBlueCurveY},
    {marker:'circle',color:'#ff0000',simRange:glrtRedSimRange,simY:glrtRedSimY,curveT:glrtRedCurveT,curveY:glrtRedCurveY},
    {marker:'triangle',color:'#009900',simRange:glrtGreenSimRange,simY:glrtGreenSimY,curveT:glrtGreenCurveT,curveY:glrtGreenCurveY}
  ]});
</script>
</body>
</html>
